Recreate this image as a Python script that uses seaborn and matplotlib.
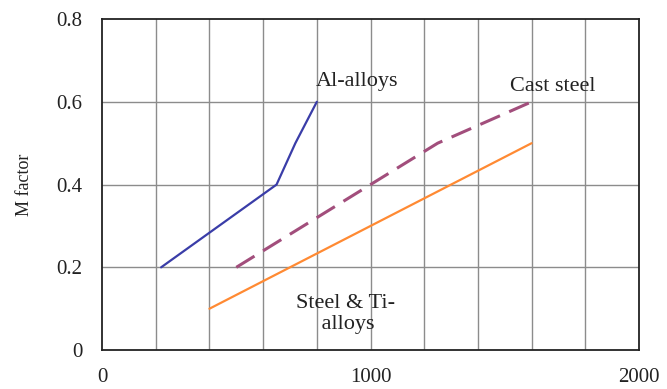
import matplotlib
matplotlib.use("Agg")
import matplotlib.pyplot as plt
import seaborn as sns
import pandas as pd

# Curve data: M factor vs. tensile strength
al_x = [220, 650, 720, 800]
al_y = [0.2, 0.4, 0.5, 0.6]

cast_x = [500, 1000, 1250, 1600]
cast_y = [0.2, 0.4, 0.5, 0.6]

steel_x = [400, 1600]
steel_y = [0.1, 0.5]

x_ticks = [0, 1000, 2000]
x_tick_labels = ["0", "1000", "2000"]
y_ticks = [0, 0.2, 0.4, 0.6, 0.8]
y_tick_labels = ["0", "0.2", "0.4", "0.6", "0.8"]

sns.set_style("white")
plt.rcParams["font.family"] = ["Liberation Serif", "DejaVu Serif"]

fig = plt.figure(figsize=(6.67, 3.89), dpi=100)
ax = fig.add_axes([0.153, 0.100, 0.805, 0.851])

al = pd.DataFrame({"x": al_x, "y": al_y})
cast = pd.DataFrame({"x": cast_x, "y": cast_y})
steel = pd.DataFrame({"x": steel_x, "y": steel_y})

sns.lineplot(data=al, x="x", y="y", ax=ax, sort=False, color="#3A3DA8",
             linewidth=1.6, zorder=3)
sns.lineplot(data=cast, x="x", y="y", ax=ax, sort=False, color="#A24E7C",
             linewidth=2.2, zorder=3)
ax.lines[-1].set_dashes([7, 3.3])
sns.lineplot(data=steel, x="x", y="y", ax=ax, sort=False, color="#FF8A33",
             linewidth=1.6, zorder=3)

ax.set_xlim(0, 2000)
ax.set_ylim(0, 0.8)

# grid every 200 units in x and 0.2 in y
for gx in range(200, 2000, 200):
    ax.axvline(gx, color="#8C8C8C", linewidth=1.0, zorder=1)
for gy in [0.2, 0.4, 0.6]:
    ax.axhline(gy, color="#8C8C8C", linewidth=1.0, zorder=1)

ax.set_xticks(x_ticks)
ax.set_xticklabels(x_tick_labels, fontsize=15)
ax.set_yticks(y_ticks)
ax.set_yticklabels(y_tick_labels, fontsize=15)
ax.tick_params(axis="x", length=0, pad=13, colors="#222222")
ax.tick_params(axis="y", length=0, pad=14, colors="#222222")

ax.set_xlabel("")
ax.set_ylabel("M factor", fontsize=13, labelpad=17, color="#222222")

for side in ["left", "bottom", "right", "top"]:
    ax.spines[side].set_visible(True)
    ax.spines[side].set_color("#222222")
    ax.spines[side].set_linewidth(1.3)

ax.text(797, 0.65, "Al-alloys", fontsize=16, ha="left", va="center", color="#222222")
ax.text(1520, 0.636, "Cast steel", fontsize=16, ha="left", va="center", color="#222222")
ax.text(905, 0.087, "Steel & Ti-\n alloys", fontsize=16, ha="center", va="center",
        color="#222222", linespacing=1.15)

fig.savefig("out.png", dpi=100)
